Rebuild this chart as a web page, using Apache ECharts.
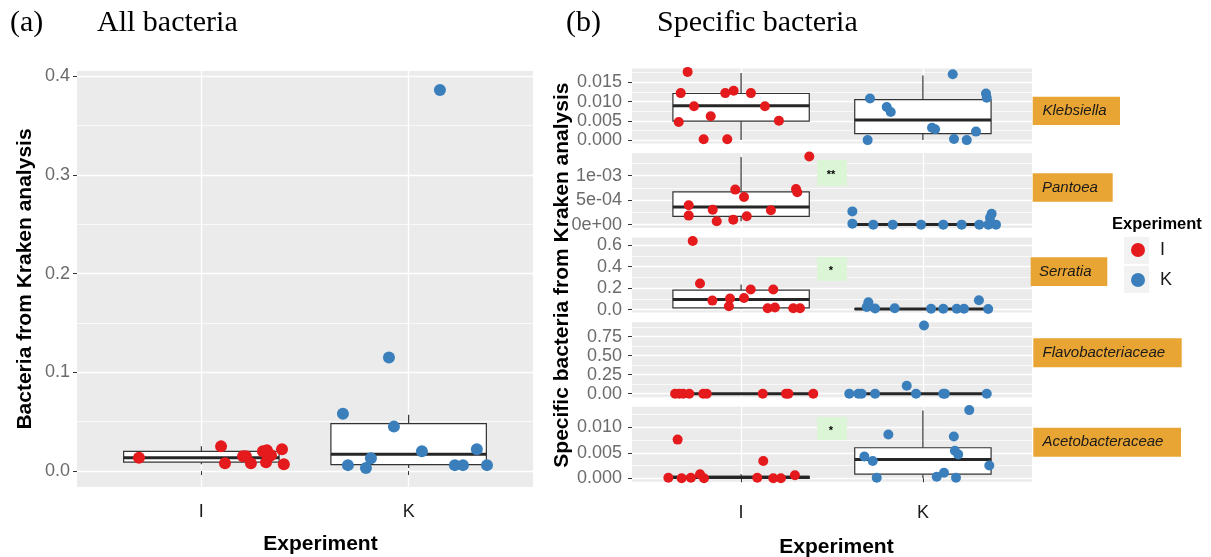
<!DOCTYPE html>
<html><head><meta charset="utf-8">
<script src="https://cdn.jsdelivr.net/npm/echarts@6/dist/echarts.min.js"></script>
<style>html,body{margin:0;padding:0;background:#fff}#c{width:1211px;height:557px}</style>
</head><body><div id="c"></div>
<script>
// ---------- DATA ----------
const categories = ['I', 'K'];
const facetNames = ['Klebsiella', 'Pantoea', 'Serratia', 'Flavobacteriaceae', 'Acetobacteraceae'];
const significance = ['', '**', '*', '', '*'];

// points: [jitter offset from category, value]
const allI = [[-0.301,0.0134],[0.095,0.025],[0.114,0.008],[0.201,0.015],[0.215,0.015],[0.239,0.008],[0.297,0.020],[0.316,0.021],[0.321,0.014],[0.312,0.009],[0.336,0.016],[0.389,0.022],[0.398,0.007]];
const allK = [[0.151,0.386],[-0.095,0.115],[-0.317,0.058],[-0.071,0.045],[0.064,0.020],[0.329,0.022],[-0.182,0.013],[-0.293,0.006],[-0.206,0.003],[0.223,0.006],[0.262,0.006],[0.378,0.006]];
// box stats per category: [min, Q1, median, Q3, max]
const allBox = [[0.007,0.009,0.0135,0.020,0.025],[0.003,0.0065,0.017,0.048,0.057]];

const klebI = [[-0.294,0.0177],[-0.332,0.0122],[-0.259,0.0088],[-0.343,0.0047],[-0.206,0.0002],[-0.167,0.0062],[-0.076,0.0002],[-0.087,0.0122],[-0.041,0.0128],[0.054,0.0122],[0.131,0.0088],[0.208,0.0050]];
const klebK = [[0.164,0.0171],[-0.291,0.0108],[-0.199,0.0086],[-0.177,0.0073],[-0.304,0.0],[0.067,0.0028],[0.050,0.0032],[0.171,0.0003],[0.241,0.0],[0.292,0.0022],[0.347,0.0121],[0.351,0.0110]];
const klebBox = [[0,0.0049,0.0089,0.0121,0.0174],[0,0.0017,0.0052,0.0105,0.0168]];

const pantI = [[0.375,0.00139],[-0.032,0.000714],[0.016,0.000565],[-0.288,0.000395],[-0.156,0.000306],[-0.288,0.000184],[-0.134,0.000068],[-0.043,0.000102],[0.031,0.000170],[0.164,0.000293],[0.302,0.000728],[0.309,0.000660]];
const pantK = [[-0.388,0.00027],[-0.388,0.00002],[-0.273,0],[-0.166,0],[-0.010,0],[0.112,0],[0.213,0],[0.310,0],[0.360,0],[0.378,0.00022],[0.369,0.00014],[0.402,0]];
const pantBox = [[0.000068,0.00017,0.00036,0.00067,0.00138],[0,0,0.000005,0.00001,0.00002]];

const serrI = [[-0.266,0.640],[-0.226,0.244],[-0.158,0.084],[-0.061,0.103],[-0.067,0.031],[0.016,0.109],[0.053,0.187],[0.177,0.187],[0.146,0.012],[0.186,0.019],[0.287,0.012],[0.324,0.012]];
const serrK = [[-0.300,0.068],[-0.309,0.025],[-0.263,0.010],[-0.155,0.012],[0.045,0.008],[0.112,0.008],[0.186,0.008],[0.226,0.008],[0.308,0.087],[0.359,0.006]];
const serrBox = [[0.01,0.016,0.094,0.181,0.234],[0.004,0.005,0.006,0.007,0.010]];

const flavI = [[-0.363,0],[-0.340,0],[-0.318,0],[-0.285,0],[-0.208,0],[-0.189,0],[0.119,0],[0.247,0],[0.260,0],[0.397,0]];
const flavK = [[-0.405,0],[-0.355,0],[-0.337,0],[-0.263,0],[-0.089,0.105],[-0.038,0],[0.006,0.895],[0.112,0],[0.121,0],[0.351,0]];
const flavBox = [[0,0,0,0,0],[0,0,0,0,0]];

const acetI = [[-0.349,0.0076],[0.122,0.0034],[-0.400,0.0001],[-0.327,0],[-0.276,0.0001],[-0.226,0.0008],[-0.204,0],[0.089,0.0001],[0.177,0],[0.219,0],[0.296,0.0006]];
const acetK = [[0.255,0.0134],[-0.190,0.0086],[0.170,0.0082],[0.176,0.0054],[0.194,0.0047],[-0.322,0.0043],[-0.276,0.0034],[0.365,0.0025],[-0.254,0.0001],[0.076,0.0003],[0.116,0.0011],[0.182,0.0001]];
const acetBox = [[0,0,0.0002,0.0004,0.0008],[0,0.0008,0.0037,0.0060,0.0133]];

// tick values and labels
const ticksAll = [0, 0.1, 0.2, 0.3, 0.4];        const labelsAll = ['0.0','0.1','0.2','0.3','0.4'];
const ticksKleb = [0, 0.005, 0.010, 0.015];      const labelsKleb = ['0.000','0.005','0.010','0.015'];
const ticksPant = [0, 0.0005, 0.001];            const labelsPant = ['0e+00','5e-04','1e-03'];
const ticksSerr = [0, 0.2, 0.4, 0.6];            const labelsSerr = ['0.0','0.2','0.4','0.6'];
const ticksFlav = [0, 0.25, 0.5, 0.75];          const labelsFlav = ['0.00','0.25','0.50','0.75'];
const ticksAcet = [0, 0.005, 0.010];             const labelsAcet = ['0.000','0.005','0.010'];

// ---------- STYLE / LAYOUT ----------
const RED = '#E41A1C', BLUE = '#3A7FBC';
const PANEL_BG = '#EBEBEB';
const BOX_W = 0.75;
const SANS = '"Liberation Sans", Arial, sans-serif';

const gridA = {left: 77, top: 71, width: 456, height: 416};
const B_LEFT = 632, B_WIDTH = 400, B_TOP = 68.5, B_PITCH = 84.55, B_H = 75;

const facets = [
  {I: klebI, K: klebK, box: klebBox, ticks: ticksKleb, labels: labelsKleb},
  {I: pantI, K: pantK, box: pantBox, ticks: ticksPant, labels: labelsPant},
  {I: serrI, K: serrK, box: serrBox, ticks: ticksSerr, labels: labelsSerr},
  {I: flavI, K: flavK, box: flavBox, ticks: ticksFlav, labels: labelsFlav},
  {I: acetI, K: acetK, box: acetBox, ticks: ticksAcet, labels: labelsAcet}
];

function boxRender(params, api) {
  const x = api.value(0);
  const lo = api.value(1), q1 = api.value(2), med = api.value(3), q3 = api.value(4), hi = api.value(5);
  const hw = BOX_W / 2;
  const tl = api.coord([x - hw, q3]);
  const br = api.coord([x + hw, q1]);
  const pLo = api.coord([x, lo]), pQ1 = api.coord([x, q1]), pQ3 = api.coord([x, q3]), pHi = api.coord([x, hi]);
  const mL = api.coord([x - hw, med]), mR = api.coord([x + hw, med]);
  const stroke = '#333333';
  return {type: 'group', children: [
    {type: 'line', shape: {x1: pHi[0], y1: pHi[1], x2: pQ3[0], y2: pQ3[1]}, style: {stroke, lineWidth: 1.2}},
    {type: 'line', shape: {x1: pQ1[0], y1: pQ1[1], x2: pLo[0], y2: pLo[1]}, style: {stroke, lineWidth: 1.2}},
    {type: 'rect', shape: {x: tl[0], y: tl[1], width: br[0] - tl[0], height: br[1] - tl[1]}, style: {fill: '#fff', stroke, lineWidth: 1.2}},
    {type: 'line', shape: {x1: mL[0], y1: mL[1], x2: mR[0], y2: mR[1]}, style: {stroke: '#262626', lineWidth: 3}}
  ]};
}

const grids = [], xAxes = [], yAxes = [], series = [];

function addPanel(rect, Ipts, Kpts, box, ticks, labels, opts) {
  const g = grids.length;
  grids.push(Object.assign({show: true, backgroundColor: PANEL_BG, borderWidth: 0, containLabel: false, outerBoundsMode: 'none'}, rect));
  const vals = Ipts.map(p => p[1]).concat(Kpts.map(p => p[1]), box[0], box[1]);
  const lo = Math.min(...vals), hi = Math.max(...vals);
  const pad = 0.05 * (hi - lo);
  const iv = ticks[1] - ticks[0];
  const catPos = categories.map((c, i) => i + 1);
  xAxes.push({
    gridIndex: g, type: 'value', min: 1 - 0.6, max: categories.length + 0.6,
    minInterval: 1, maxInterval: 1,
    axisLine: {show: false},
    axisTick: {show: opts.showX, length: 4, customValues: catPos, lineStyle: {color: '#333', width: 1}},
    axisLabel: {show: opts.showX, fontSize: 18, fontFamily: SANS, color: '#1a1a1a', margin: opts.xMargin, customValues: catPos,
      formatter: v => { const r = Math.round(v); return Math.abs(v - r) < 1e-6 && categories[r - 1] ? categories[r - 1] : ''; }},
    splitLine: {show: true, lineStyle: {color: '#fff', width: 1.3}},
    name: opts.xName || '', nameLocation: 'middle', nameGap: opts.xNameGap || 30,
    nameTextStyle: {fontSize: 21, fontWeight: 'bold', fontFamily: SANS, color: '#000', padding: opts.xNamePad || 0}
  });
  yAxes.push({
    gridIndex: g, type: 'value', min: lo - pad, max: hi + pad,
    minInterval: iv, maxInterval: iv, splitNumber: 5,
    axisLine: {show: false},
    axisTick: {show: true, length: 4, customValues: ticks, lineStyle: {color: '#333', width: 1}},
    axisLabel: {fontSize: 18, fontFamily: SANS, color: '#6b6b6b', margin: opts.yMargin, customValues: ticks,
      formatter: v => { for (let i = 0; i < ticks.length; i++) { if (Math.abs(v - ticks[i]) < iv * 1e-6) return labels[i]; } return ''; }},
    splitLine: {show: true, lineStyle: {color: '#fff', width: 1.3}},
    minorTick: {show: false, splitNumber: 2},
    minorSplitLine: {show: true, lineStyle: {color: '#fff', width: 0.7}},
    name: opts.yName || '', nameLocation: 'middle', nameGap: opts.yNameGap || 30,
    nameTextStyle: {fontSize: 21, fontWeight: 'bold', fontFamily: SANS, color: '#000'}
  });
  series.push({
    type: 'custom', name: 'box', xAxisIndex: g, yAxisIndex: g, z: 2,
    renderItem: boxRender, encode: {x: 0, y: [1, 2, 3, 4, 5]},
    data: box.map((b, i) => [i + 1].concat(b))
  });
  series.push({
    type: 'scatter', name: categories[0], xAxisIndex: g, yAxisIndex: g, z: 3,
    symbolSize: opts.size, itemStyle: {color: RED, opacity: 1},
    data: Ipts.map(p => [1 + p[0], p[1]])
  });
  series.push({
    type: 'scatter', name: categories[1], xAxisIndex: g, yAxisIndex: g, z: 3,
    symbolSize: opts.size, itemStyle: {color: BLUE, opacity: 1},
    data: Kpts.map(p => [2 + p[0], p[1]])
  });
}

// Panel (a)
addPanel(gridA, allI, allK, allBox, ticksAll, labelsAll, {
  showX: true, xMargin: 16, yMargin: 7, size: 12,
  xName: 'Experiment', xNameGap: 47, xNamePad: [0, 0, 0, 31],
  yName: 'Bacteria from Kraken analysis', yNameGap: 41
});
// Panel (b) facets
facets.forEach((f, i) => {
  const last = i === facets.length - 1;
  addPanel({left: B_LEFT, top: B_TOP + i * B_PITCH, width: B_WIDTH, height: B_H}, f.I, f.K, f.box, f.ticks, f.labels, {
    showX: last, xMargin: 22, yMargin: 10, size: 10,
    xName: last ? 'Experiment' : '', xNameGap: 55, xNamePad: [0, 0, 0, 9],
    yName: i === 2 ? 'Specific bacteria from Kraken analysis' : '', yNameGap: 59
  });
});

// ---------- annotations ----------
const graphic = [
  {type: 'text', left: 10, top: 8, style: {text: '(a)', font: '30px "Liberation Serif", serif', fill: '#000'}},
  {type: 'text', left: 97, top: 8, style: {text: 'All bacteria', font: '30px "Liberation Serif", serif', fill: '#000'}},
  {type: 'text', left: 566, top: 8, style: {text: '(b)', font: '30px "Liberation Serif", serif', fill: '#000'}},
  {type: 'text', left: 657, top: 8, style: {text: 'Specific bacteria', font: '30px "Liberation Serif", serif', fill: '#000'}},
  {type: 'text', left: 1112, top: 216, style: {text: 'Experiment', font: 'bold 16.5px "Liberation Sans", Arial, sans-serif', fill: '#000'}},
  {type: 'rect', shape: {x: 1124, y: 237, width: 25, height: 27}, style: {fill: '#F2F2F2'}},
  {type: 'rect', shape: {x: 1124, y: 266, width: 25, height: 27}, style: {fill: '#F2F2F2'}}
];
const stripBoxes = [
  {x: 1032.7, y: 96.7, w: 87.3, h: 28.3, tx: 1042.5},
  {x: 1032.7, y: 173.3, w: 80, h: 28.4, tx: 1042},
  {x: 1030.7, y: 257.3, w: 76.6, h: 28.7, tx: 1039},
  {x: 1033.3, y: 338.3, w: 148.4, h: 29, tx: 1042.5},
  {x: 1033.3, y: 427.7, w: 147.7, h: 29, tx: 1042.5}
];
stripBoxes.forEach((s, i) => {
  graphic.push({type: 'rect', shape: {x: s.x, y: s.y, width: s.w, height: s.h}, style: {fill: '#E9A533'}, z: 10});
  graphic.push({type: 'text', x: s.tx, y: s.y + s.h / 2, z: 11,
    style: {text: facetNames[i], font: 'italic 15px "Liberation Sans", Arial, sans-serif', fill: '#1a1a1a', verticalAlign: 'middle'}});
});
const sigBoxes = [null, {y: 160, h: 26}, {y: 257, h: 24}, null, {y: 417, h: 23}];
sigBoxes.forEach((s, i) => {
  if (!s) return;
  graphic.push({type: 'rect', shape: {x: 817, y: s.y, width: 30, height: s.h}, style: {fill: '#DBF5D6'}, z: 10});
  graphic.push({type: 'text', x: 831, y: s.y + s.h / 2 + 2, z: 11,
    style: {text: significance[i], font: 'bold 11px "Liberation Sans", Arial, sans-serif', fill: '#000', align: 'center', verticalAlign: 'middle'}});
});

const chart = echarts.init(document.getElementById('c'), null, {renderer: 'canvas'});
chart.setOption({
  animation: false,
  backgroundColor: '#fff',
  grid: grids,
  xAxis: xAxes,
  yAxis: yAxes,
  series: series,
  legend: {
    data: categories, orient: 'vertical', left: 1131, top: 241, padding: 0, icon: 'circle',
    itemWidth: 14, itemHeight: 14, itemGap: 12, selectedMode: false,
    textStyle: {fontSize: 18, fontFamily: SANS, color: '#1a1a1a', padding: [0, 0, 0, 10]}
  },
  graphic: graphic
});
</script>
</body></html>
